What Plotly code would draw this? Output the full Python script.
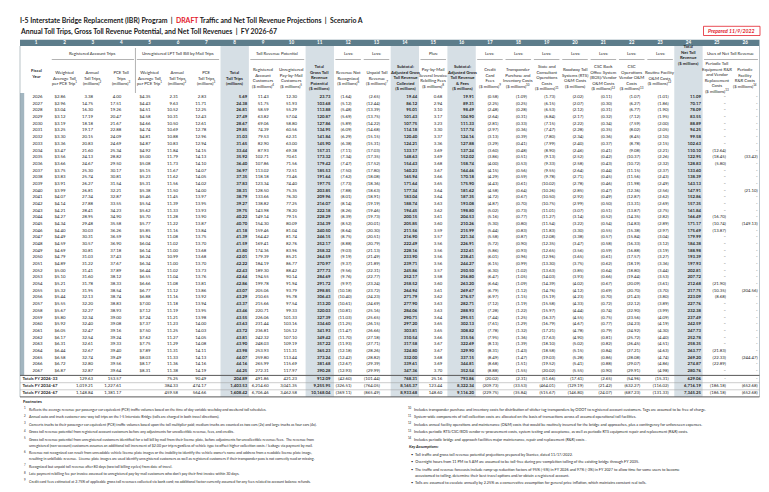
import plotly.graph_objects as go

# ---------------------------------------------------------------- data
fiscal_years = list(range(2026, 2068))

reg_avg_toll = [2.86, 2.96, 3.04, 3.12, 3.19, 3.25, 3.30, 3.36, 3.47, 3.56,
                3.66, 3.75, 3.83, 3.91, 3.99, 4.07, 4.14, 4.21, 4.27, 4.34,
                4.40, 4.49, 4.59, 4.69, 4.79, 4.89, 5.00, 5.10, 5.21, 5.32,
                5.44, 5.55, 5.67, 5.80, 5.92, 6.05, 6.17, 6.31, 6.44, 6.58,
                6.72, 6.87]
reg_trips = [3.38, 14.75, 16.30, 17.19, 18.18, 19.17, 20.15, 20.83, 21.60, 24.13,
             24.67, 25.30, 25.74, 26.27, 26.81, 27.34, 27.88, 28.41, 28.95, 29.48,
             30.03, 30.31, 30.57, 30.81, 31.03, 31.22, 31.41, 31.60, 31.78, 31.95,
             32.13, 32.20, 32.27, 32.34, 32.40, 32.47, 32.54, 32.61, 32.67, 32.74,
             32.80, 32.87]
reg_pce = [4.00, 17.51, 19.26, 20.47, 21.67, 22.88, 24.09, 24.69, 25.34, 28.82,
           29.50, 30.17, 30.81, 31.54, 32.21, 32.87, 33.55, 34.23, 34.90, 35.58,
           36.26, 36.59, 36.90, 37.18, 37.43, 37.67, 37.89, 38.12, 38.33, 38.54,
           38.74, 38.83, 38.93, 39.00, 39.08, 39.16, 39.24, 39.33, 39.40, 39.49,
           39.56, 39.64]
unreg_avg_toll = [4.35, 4.43, 4.51, 4.58, 4.66, 4.74, 4.81, 4.87, 4.92, 5.00,
                  5.08, 5.15, 5.23, 5.31, 5.38, 5.46, 5.54, 5.62, 5.70, 5.77,
                  5.85, 5.94, 6.04, 6.14, 6.24, 6.34, 6.44, 6.55, 6.66, 6.77,
                  6.88, 7.00, 7.12, 7.24, 7.37, 7.50, 7.62, 7.75, 7.89, 8.03,
                  8.17, 8.31]
unreg_trips = [2.31, 9.63, 10.52, 10.31, 10.50, 10.69, 10.88, 10.83, 11.84, 11.79,
               11.73, 11.67, 11.62, 11.56, 11.50, 11.45, 11.39, 11.33, 11.28, 11.22,
               11.16, 11.08, 11.02, 11.00, 10.99, 11.00, 11.02, 11.04, 11.08, 11.12,
               11.16, 11.18, 11.19, 11.21, 11.23, 11.25, 11.27, 11.29, 11.31, 11.33,
               11.36, 11.38]
unreg_pce = [2.83, 11.71, 12.25, 12.43, 12.61, 12.78, 12.96, 12.94, 14.15, 14.13,
             14.10, 14.07, 14.05, 14.02, 14.00, 13.97, 13.95, 13.93, 13.90, 13.87,
             13.84, 13.75, 13.70, 13.68, 13.68, 13.70, 13.73, 13.76, 13.81, 13.86,
             13.92, 13.94, 13.95, 13.98, 14.00, 14.03, 14.05, 14.08, 14.11, 14.13,
             14.16, 14.19]
total_trips = [5.69, 24.38, 26.81, 27.49, 28.67, 29.85, 31.03, 31.65, 33.44, 35.92,
               36.40, 36.97, 37.35, 37.83, 38.31, 38.79, 39.27, 39.75, 40.22, 40.70,
               41.18, 41.39, 41.59, 41.80, 42.01, 42.22, 42.43, 42.64, 42.86, 43.07,
               43.29, 43.37, 43.46, 43.55, 43.63, 43.72, 43.81, 43.90, 43.98, 44.07,
               44.16, 44.25]
rev_registered = [11.43, 51.75, 58.59, 63.82, 69.06, 74.39, 79.53, 82.90, 87.93, 102.71,
                  107.86, 113.02, 118.18, 123.34, 128.50, 133.66, 138.82, 143.98, 149.14, 154.30,
                  159.46, 164.42, 169.41, 174.36, 179.39, 184.19, 189.30, 194.55, 199.78, 205.06,
                  210.65, 215.66, 220.71, 226.06, 231.44, 236.81, 242.32, 248.03, 253.93, 259.80,
                  265.99, 272.31]
rev_unregistered = [12.30, 51.93, 55.29, 57.04, 58.80, 60.56, 62.31, 63.00, 69.38, 70.61,
                    71.56, 72.51, 73.46, 74.40, 75.35, 76.30, 77.25, 78.20, 79.15, 80.09,
                    81.04, 81.74, 82.76, 83.96, 85.21, 86.77, 88.42, 90.14, 91.94, 93.79,
                    95.78, 97.54, 99.33, 101.33, 103.16, 105.12, 107.10, 109.19, 111.31, 113.44,
                    115.69, 117.97]
gross_potential = [23.73, 103.68, 113.88, 120.87, 127.86, 134.95, 141.84, 145.90, 157.31, 173.32,
                   179.42, 185.53, 191.64, 197.75, 203.85, 209.96, 216.07, 222.18, 228.29, 234.39,
                   240.50, 246.15, 252.17, 258.32, 264.59, 270.97, 277.73, 284.69, 291.72, 298.85,
                   306.43, 313.20, 320.03, 327.39, 334.60, 341.93, 349.42, 357.22, 365.23, 373.24,
                   381.68, 390.28]
rev_not_recognized = [-1.64, -5.12, -5.48, -5.69, -5.89, -6.09, -6.29, -6.38, -7.11, -7.34,
                      -7.47, -7.50, -7.62, -7.73, -7.88, -8.01, -8.14, -8.26, -8.39, -8.52,
                      -8.64, -8.75, -8.88, -9.03, -9.19, -9.37, -9.56, -9.76, -9.97, -10.18,
                      -10.40, -10.61, -10.81, -11.03, -11.25, -11.47, -11.70, -11.93, -12.18, -12.42,
                      -12.67, -12.93]
unpaid_revenue = [-2.65, -12.44, -13.39, -13.75, -14.22, -14.68, -15.15, -15.31, -17.03, -17.35,
                  -17.52, -17.80, -18.08, -18.36, -18.63, -18.91, -19.19, -19.46, -19.73, -20.01,
                  -20.30, -20.51, -20.79, -21.13, -21.49, -21.89, -22.31, -22.77, -23.24, -23.72,
                  -24.23, -24.69, -25.16, -25.65, -26.15, -26.66, -27.18, -27.71, -28.26, -28.82,
                  -29.39, -29.99]
subtotal_collected = [19.44, 86.12, 95.01, 101.43, 107.75, 114.18, 120.40, 124.21, 133.17, 148.63,
                      154.43, 160.23, 165.94, 171.64, 177.34, 183.04, 188.74, 194.45, 200.15, 205.85,
                      211.56, 216.90, 222.49, 228.16, 233.90, 239.71, 245.86, 252.17, 258.52, 264.94,
                      271.79, 277.90, 284.06, 290.71, 297.20, 303.81, 310.54, 317.58, 324.80, 332.00,
                      339.61, 347.36]
rebilling_fees = [0.68, 2.94, 3.10, 3.17, 3.23, 3.30, 3.37, 3.36, 3.69, 3.69,
                  3.68, 3.67, 3.66, 3.65, 3.64, 3.64, 3.63, 3.62, 3.61, 3.60,
                  3.59, 3.57, 3.56, 3.56, 3.56, 3.56, 3.57, 3.58, 3.60, 3.61,
                  3.62, 3.63, 3.63, 3.64, 3.65, 3.65, 3.66, 3.67, 3.67, 3.68,
                  3.69, 3.70]
subtotal_with_fees = [19.91, 89.31, 98.49, 104.90, 111.33, 117.74, 124.16, 127.88, 137.24, 152.02,
                      158.74, 164.46, 170.18, 175.90, 181.62, 187.35, 193.08, 198.80, 204.53, 210.26,
                      215.99, 221.34, 226.91, 232.61, 238.41, 244.27, 250.50, 256.80, 263.20, 269.67,
                      276.57, 282.71, 288.93, 295.51, 302.13, 308.82, 315.56, 322.69, 329.90, 337.15,
                      344.81, 352.54]
credit_card_fees = [-0.58, -2.25, -2.48, -2.64, -2.81, -2.97, -3.13, -3.29, -3.60, -3.86,
                    -4.00, -4.15, -4.29, -4.43, -4.58, -4.72, -4.87, -5.02, -5.16, -5.30,
                    -5.44, -5.58, -5.72, -5.86, -6.01, -6.15, -6.30, -6.47, -6.64, -6.79,
                    -6.97, -7.12, -7.28, -7.44, -7.61, -7.78, -7.95, -8.13, -8.31, -8.49,
                    -8.68, -8.88]
transponder_costs = [-1.09, -0.25, -0.28, -0.31, -0.33, -0.36, -0.39, -0.41, -0.48, -0.51,
                     -0.53, -0.56, -0.59, -0.61, -0.64, -0.67, -0.70, -0.73, -0.77, -0.80,
                     -0.83, -0.87, -0.90, -0.93, -0.96, -0.99, -1.02, -1.05, -1.09, -1.12,
                     -1.15, -1.19, -1.22, -1.25, -1.29, -1.32, -1.36, -1.39, -1.43, -1.47,
                     -1.51, -1.55]
state_consultant_costs = [-1.73, -6.15, -6.53, -6.84, -7.15, -7.47, -7.80, -7.99, -8.90, -9.13,
                          -9.33, -9.55, -9.78, -10.02, -10.26, -10.50, -10.75, -11.01, -11.27, -11.54,
                          -11.83, -12.08, -12.35, -12.65, -12.96, -13.30, -13.63, -14.03, -14.39, -14.76,
                          -15.19, -15.58, -15.97, -16.37, -16.79, -17.21, -17.63, -18.10, -18.58, -19.03,
                          -19.52, -20.02]
rts_om_costs = [-2.02, -2.07, -2.12, -2.17, -2.22, -2.28, -2.34, -2.40, -2.46, -2.52,
                -2.58, -2.64, -2.71, -2.78, -2.85, -2.92, -2.99, -3.07, -3.14, -3.22,
                -3.30, -3.38, -3.47, -3.56, -3.65, -3.75, -3.85, -3.93, -4.02, -4.12,
                -4.23, -4.33, -4.44, -4.55, -4.67, -4.78, -4.90, -5.02, -5.15, -5.28,
                -5.41, -5.55]
bos_vendor_costs = [-0.11, -0.30, -0.31, -0.32, -0.34, -0.35, -0.36, -0.37, -0.41, -0.42,
                    -0.43, -0.44, -0.45, -0.46, -0.47, -0.49, -0.50, -0.51, -0.52, -0.54,
                    -0.55, -0.57, -0.58, -0.59, -0.61, -0.62, -0.64, -0.66, -0.67, -0.69,
                    -0.70, -0.72, -0.74, -0.75, -0.77, -0.79, -0.81, -0.82, -0.84, -0.86,
                    -0.88, -0.90]
csc_ops_costs = [-1.07, -6.27, -6.77, -7.12, -7.59, -8.02, -8.45, -8.78, -9.08, -10.37,
                 -10.72, -11.15, -11.56, -11.98, -12.36, -12.87, -13.31, -13.87, -14.35, -14.83,
                 -15.38, -15.84, -16.33, -16.88, -17.57, -18.19, -18.80, -19.44, -20.09, -20.70,
                 -21.43, -22.12, -22.90, -23.56, -24.23, -24.92, -25.72, -26.45, -27.21, -28.08,
                 -29.07, -29.91]
routine_facility_costs = [-1.01, -1.86, -1.90, -1.95, -2.00, -2.05, -2.10, -2.15, -2.21, -2.26,
                          -2.32, -2.37, -2.43, -2.49, -2.56, -2.62, -2.69, -2.75, -2.82, -2.89,
                          -2.97, -3.04, -3.12, -3.19, -3.27, -3.36, -3.44, -3.53, -3.61, -3.70,
                          -3.80, -3.89, -3.99, -4.09, -4.19, -4.30, -4.40, -4.51, -4.63, -4.74,
                          -4.86, -4.98]
net_toll_revenue = [11.09, 70.17, 78.09, 83.55, 88.89, 94.25, 99.58, 102.63, 110.10, 122.95,
                    128.83, 133.60, 138.39, 143.13, 147.91, 152.86, 157.35, 161.84, 166.49, 171.17,
                    175.69, 179.99, 184.38, 188.98, 193.39, 197.93, 202.81, 207.72, 212.68, 217.75,
                    223.09, 227.76, 232.38, 237.49, 242.59, 247.73, 252.78, 258.35, 263.77, 269.20,
                    274.87, 280.76]
periodic_toll_rr = [None, None, None, None, None, None, None, None, -12.64, -18.45,
                    -5.80, None, None, None, None, None, None, None, -16.70, -10.74,
                    -13.87, None, None, None, None, None, None, None, -21.90, -10.35,
                    -8.68, None, None, None, None, None, None, None, -21.83, -22.33,
                    -22.89, None]
periodic_facility_rr = [None, None, None, None, None, None, None, None, None, -33.42,
                        None, None, None, None, -21.10, None, None, None, None, -149.13,
                        None, None, None, None, None, None, None, None, None, -204.56,
                        None, None, None, None, None, None, None, None, None, -244.47,
                        None, None]

totals_labels = ["Totals FY 2026-33", "Totals FY 2034-67", "Totals FY 2026-67"]
# columns 2..26
totals_2026_33 = [None, 129.63, 153.57, None, 75.25, 90.49, 204.89, 491.86, 421.23, 912.09,
                  -42.60, -101.44, 768.31, 25.16, 793.86, -20.02, -2.31, -51.66, -17.61, -2.65,
                  -54.96, -15.31, 629.06, None, None]
totals_2034_67 = [None, 1019.21, 1227.61, None, 384.33, 474.17, 1403.53, 6214.60, 3041.35, 9255.95,
                  -326.51, -764.05, 8165.37, 123.44, 8322.34, -209.73, -33.53, -464.01, -129.19, -21.42,
                  -632.27, -116.02, 6716.19, -186.18, -652.68]
totals_2026_67 = [None, 1148.84, 1381.17, None, 459.58, 564.66, 1608.42, 6706.46, 3462.58, 10168.04,
                  -369.11, -865.49, 8933.68, 148.60, 9116.20, -229.75, -35.84, -515.67, -146.80, -24.07,
                  -687.23, -131.33, 7345.25, -186.18, -652.68]

column_headers = [
    "<b>Fiscal<br>Year</b>",
    "Weighted<br>Average Toll<br>per PCE Trip<sup>1</sup>",
    "Annual<br>Toll Trips<br>(millions)<sup>2</sup>",
    "PCE Toll<br>Trips<br>(millions)<sup>3</sup>",
    "Weighted<br>Average Toll<br>per PCE Trip<sup>1</sup>",
    "Annual<br>Toll Trips<br>(millions)<sup>2</sup>",
    "PCE<br>Toll Trips<br>(millions)<sup>3</sup>",
    "<b>Total<br>Toll Trips<br>(millions)</b>",
    "Registered<br>Account<br>Customers<br>($ millions)<sup>4</sup>",
    "Unregistered<br>Pay-by-Mail<br>Customers<br>($ millions)<sup>5</sup>",
    "<b>Total<br>Gross Toll<br>Revenue<br>Potential<br>($ millions)</b>",
    "Revenue Not<br>Recognized<br>($ millions)<sup>6</sup>",
    "Unpaid Toll<br>Revenue<br>($ millions)<sup>7</sup>",
    "<b>Subtotal:<br>Adjusted Gross<br>Toll Revenue<br>Collected<br>($ millions)</b>",
    "Pay-by-Mail<br>Several Invoice<br>Rebilling Fees<br>($ millions)<sup>8</sup>",
    "<b>Subtotal:<br>Adjusted Gross<br>Toll Revenue<br>&amp; Fees<br>($ millions)</b>",
    "Credit<br>Card<br>Fees<br>($ millions)<sup>9</sup>",
    "Transponder<br>Purchase and<br>Inventory Costs<br>($ millions)<sup>10</sup>",
    "State and<br>Consultant<br>Operations<br>Costs<br>($ millions)<sup>11</sup>",
    "Roadway Toll<br>Systems (RTS)<br>O&amp;M Costs<br>($ millions)",
    "CSC Back<br>Office System<br>(BOS)/Vendor<br>O&amp;M Costs<br>($ millions)<sup>12</sup>",
    "CSC<br>Operations<br>Vendor O&amp;M<br>Costs<br>($ millions)<sup>13</sup>",
    "Routine Facility<br>O&amp;M Costs<br>($ millions)<sup>12</sup>",
    "<b>Total<br>Net Toll<br>Revenue<br>($ millions)</b>",
    "Periodic Toll<br>Equipment R&amp;R<br>and Vendor<br>Replacement<br>Costs<br>($ millions)<sup>13</sup>",
    "Periodic<br>Facility<br>R&amp;R Costs<br>($ millions)<sup>14</sup>",
]

group_headers = [(3, "Registered Account Trips"), (6, "Unregistered LPT Toll Bill by Mail Trips"),
                 (9.5, "Toll Revenue Potential"), (12, "Less:"), (13, "Less:"), (15, "Plus:"),
                 (17, "Less:"), (18, "Less:"), (19, "Less:"), (20, "Less:"), (21, "Less:"),
                 (22, "Less:"), (23, "Less:"), (25.5, "Uses of Net Toll Revenue")]

footnotes_left = [
    ("1", "Reflects the average revenue per passenger car equivalent (PCE) traffic volumes based on the time of day variable weekday and weekend toll schedules."),
    ("2", "Annual auto and truck customer one-way toll trips on the I-5 Interstate Bridge (tolls are charged in both travel directions)."),
    ("3", "Converts trucks to their passenger car equivalent (PCE) traffic volumes based upon the toll multiplier paid; medium trucks are counted as two cars (2x) and large trucks as four cars (4x)."),
    ("4", "Gross toll revenue potential from registered account customers before any adjustments for uncollectible revenue, fees, and credits."),
    ("5", "Gross toll revenue potential from unregistered customers identified for a toll bill by mail from their license plate, before adjustments for uncollectible revenue/fees.  The revenue from"),
    ("", "unregistered (non-account) customers assumes an additional toll increment of $2.00 per trip regardless of vehicle type to offset higher collection costs / leakage via payment by mail."),
    ("6", "Revenue not recognized can result from unreadable vehicle license plate images or the inability to identify the vehicle owner's name and address from a readable license plate image,"),
    ("", "resulting in unbillable revenue.  License plate images are used identify unregistered customers as well as registered customers if their transponder pass is not correctly read or missing."),
    ("7", "Recognized but unpaid toll revenue after 80 days (two toll billing cycles) from date of travel."),
    ("8", "Late payment rebilling fee per invoice assessed to unregistered pay-by-mail customers who don't pay their first invoice within 30 days."),
    ("9", "Credit card fees estimated at 2.75% of applicable gross toll revenues collected via bank card; no additional factor currently assumed for any fees related to account balance refunds."),
]
footnotes_right = [
    ("10", "Includes transponder purchase and inventory costs for distribution of sticker tag transponders by ODOT to registered account customers. Tags are assumed to be free of charge."),
    ("11", "System-wide components of toll collection costs are allocated on the basis of transactions across all assumed operational toll facilities."),
    ("12", "Includes annual facility operations and maintenance (O&amp;M) costs that would be routinely incurred for the bridge and approaches, plus a contingency for unforeseen expenses."),
    ("13", "Includes periodic RTS/CSC/BOS vendor re-procurement costs, system testing and acceptance, as well as periodic RTS equipment repair and replacement (R&amp;R) costs."),
    ("14", "Includes periodic bridge and approach facilities major maintenance, repair and replacement (R&amp;R) costs ."),
]
key_assumptions = [
    "•  Toll traffic and gross toll revenue potential projections prepared by Stantec, dated 11/17/2022.",
    "•  Overnight hours from 11 PM to 5 AM are assumed to be toll-free during pre-completion tolling of the existing bridge through FY 2035.",
    "•  The traffic and revenue forecasts include ramp-up reduction factors of 95% (-5%) in FY 2026 and 97% (-3%) in FY 2027 to allow time for some users to become",
    "    accustomed to tolling, determine their best travel options and/or obtain a registered account.",
    "•  Tolls are assumed to escalate annually by 2.25% as a conservative assumption for general price inflation, which maintains constant real tolls.",
]

# ---------------------------------------------------------------- layout helpers
W_PX, H_PX = 769, 492
L, CW = 14.0, 28.36       # table left edge (px) and column width (px)
Y0, RH = 89.0, 6.68       # first data row centre (px) and row height (px)


def xd(px):
    return 0.5 + (px - L) / CW


def yd(py):
    return (py - Y0) / RH


FONT = "Lato, 'Open Sans', sans-serif"
TXT = "#262626"
TEAL = "#5d7d8b"
BAND = "#d6dfe5"
STRIP = "#a3b6c0"
RED = "#e3202b"


def fmt(v, dollar=False):
    if v is None:
        return None
    s = f"{abs(v):,.2f}"
    if dollar:
        s = "$" + s
    return f"({s})" if v < 0 else s


data_columns = [
    (2, reg_avg_toll, True), (3, reg_trips, False), (4, reg_pce, False),
    (5, unreg_avg_toll, True), (6, unreg_trips, False), (7, unreg_pce, False),
    (8, total_trips, False), (9, rev_registered, False), (10, rev_unregistered, False),
    (11, gross_potential, False), (12, rev_not_recognized, False), (13, unpaid_revenue, False),
    (14, subtotal_collected, False), (15, rebilling_fees, False), (16, subtotal_with_fees, False),
    (17, credit_card_fees, False), (18, transponder_costs, False), (19, state_consultant_costs, False),
    (20, rts_om_costs, False), (21, bos_vendor_costs, False), (22, csc_ops_costs, False),
    (23, routine_facility_costs, False), (24, net_toll_revenue, False),
    (25, periodic_toll_rr, False), (26, periodic_facility_rr, False),
]
bold_cols = {8, 11, 14, 16, 24}
right_off = {2: 0.03, 3: 0.0, 4: 0.0, 5: 0.03, 6: 0.0, 7: 0.0, 8: 0.44, 9: 0.2, 10: 0.2,
             11: 0.38, 12: 0.12, 13: 0.12, 14: 0.44, 15: 0.32, 16: 0.44, 17: 0.3, 18: 0.3,
             19: 0.3, 20: 0.3, 21: 0.3, 22: 0.3, 23: 0.3, 24: 0.44, 25: 0.32, 26: 0.44}
empty_mark = {25: "–", 26: "-"}

fig = go.Figure()
shapes = []
ann = []

# shaded total columns
for c in sorted(bold_cols):
    shapes.append(dict(type="rect", xref="x", yref="y", x0=c - 0.5, x1=c + 0.5,
                       y0=yd(38), y1=yd(389), fillcolor=BAND, line_width=0, layer="below"))
# column-number bar
shapes.append(dict(type="rect", xref="x", yref="y", x0=xd(12), x1=xd(751.5),
                   y0=yd(31.8), y1=yd(38), fillcolor=TEAL, line_width=0, layer="below"))
# left strip for data rows
shapes.append(dict(type="rect", xref="x", yref="y", x0=xd(12), x1=xd(16.2),
                   y0=yd(85), y1=yd(367.4), fillcolor=STRIP, line_width=0, layer="below"))
# outer borders
for xb in (xd(12), xd(751.5)):
    shapes.append(dict(type="line", xref="x", yref="y", x0=xb, x1=xb, y0=yd(38), y1=yd(389),
                       line=dict(color="#8c9ba3", width=0.6)))
# vertical separator in header between col 4 and 5
shapes.append(dict(type="line", xref="x", yref="y", x0=4.5, x1=4.5, y0=yd(40), y1=yd(85),
                   line=dict(color="#7f7f7f", width=0.6)))
# group underlines
for a, b in [(2, 4), (5, 7), (9, 10), (12, 12), (13, 13), (15, 15), (17, 17), (18, 18), (19, 19),
             (20, 20), (21, 21), (22, 22), (23, 23), (25, 26)]:
    shapes.append(dict(type="line", xref="x", yref="y", x0=a - 0.45, x1=b + 0.45,
                       y0=yd(51.5), y1=yd(51.5), line=dict(color="#7f7f7f", width=0.6)))
# bottom / totals lines
for py, w, col in [(367.4, 1.0, "#595959"), (374.7, 0.5, "#9a9a9a"), (381.8, 0.5, "#9a9a9a"),
                   (388.9, 1.0, "#595959")]:
    shapes.append(dict(type="line", xref="x", yref="y", x0=xd(12), x1=xd(751.5), y0=yd(py), y1=yd(py),
                       line=dict(color=col, width=w)))

rows = list(range(len(fiscal_years)))

# fiscal year column
fig.add_trace(go.Scatter(x=[1.05] * len(rows), y=rows, mode="text", text=[str(y) for y in fiscal_years],
                         textposition="middle center",
                         textfont=dict(family=FONT, size=4.3, color=TXT),
                         hoverinfo="skip", showlegend=False, cliponaxis=False))

for c, vals, dollar in data_columns:
    texts = []
    for v in vals:
        t = fmt(v, dollar)
        if t is None:
            t = empty_mark.get(c, "")
        if c in bold_cols:
            t = f"<b>{t}</b>"
        texts.append(t)
    fig.add_trace(go.Scatter(x=[c + right_off[c]] * len(vals), y=rows, mode="text", text=texts,
                             textposition="middle left",
                             textfont=dict(family=FONT, size=4.3, color=TXT),
                             hoverinfo="skip", showlegend=False, cliponaxis=False))

# totals rows
tot_y = [yd(371.1), yd(378.2), yd(385.3)]
for label, vals, ty in zip(totals_labels, [totals_2026_33, totals_2034_67, totals_2026_67], tot_y):
    fig.add_trace(go.Scatter(x=[xd(14.5)], y=[ty], mode="text", text=[f"<b>{label}</b>"],
                             textposition="middle right",
                             textfont=dict(family=FONT, size=4.3, color=TXT),
                             hoverinfo="skip", showlegend=False, cliponaxis=False))
    xs, ts = [], []
    for i, v in enumerate(vals):
        c = i + 2
        t = fmt(v)
        if t is None:
            if c in (25, 26):
                t = "-"
            else:
                continue
        if c in bold_cols:
            t = f"<b>{t}</b>"
        xs.append(c + right_off[c])
        ts.append(t)
    fig.add_trace(go.Scatter(x=xs, y=[ty] * len(xs), mode="text", text=ts, textposition="middle left",
                             textfont=dict(family=FONT, size=4.3, color=TXT),
                             hoverinfo="skip", showlegend=False, cliponaxis=False))

# column numbers
fig.add_trace(go.Scatter(x=list(range(1, 27)), y=[yd(35)] * 26, mode="text",
                         text=[f"<b>{i}</b>" for i in range(1, 27)], textposition="middle center",
                         textfont=dict(family=FONT, size=4.6, color="white"),
                         hoverinfo="skip", showlegend=False, cliponaxis=False))

# column headers
for i, h in enumerate(column_headers):
    c = i + 1
    if c == 1:
        yy = yd(65)
    elif c == 24:
        yy = yd(46.5)
    else:
        yy = yd(69.5)
    ann.append(dict(x=c, y=yy, xref="x", yref="y", text=h, showarrow=False, align="center",
                    xanchor="center", yanchor="middle", font=dict(family=FONT, size=4.3, color=TXT)))
for gx, gt in group_headers:
    ann.append(dict(x=gx, y=yd(45.8), xref="x", yref="y", text=gt, showarrow=False,
                    xanchor="center", yanchor="middle", font=dict(family=FONT, size=4.3, color=TXT)))


def P(px):
    return px / W_PX


def Q(py):
    return 1 - py / H_PX


# titles
ann.append(dict(x=P(10), y=Q(12.5), xref="paper", yref="paper", xanchor="left", yanchor="middle",
                showarrow=False,
                text=("<b>I-5 Interstate Bridge Replacement (IBR) Program  |  "
                      f"<span style='color:{RED}'>DRAFT</span> Traffic and Net Toll Revenue Projections  |  Scenario A</b>"),
                font=dict(family=FONT, size=6.9, color="#1a1a1a")))
ann.append(dict(x=P(10), y=Q(23.5), xref="paper", yref="paper", xanchor="left", yanchor="middle",
                showarrow=False,
                text="<b>Annual Toll Trips, Gross Toll Revenue Potential, and Net Toll Revenues  |  FY 2026-67</b>",
                font=dict(family=FONT, size=6.9, color="#1a1a1a")))
# prepared box
shapes.append(dict(type="rect", xref="paper", yref="paper", x0=P(695.5), x1=P(752), y0=Q(27.5), y1=Q(18.3),
                   line=dict(color=RED, width=0.8), fillcolor="white"))
ann.append(dict(x=P(723.7), y=Q(23), xref="paper", yref="paper", xanchor="center", yanchor="middle",
                showarrow=False, text="<b><i>Prepared 11/9/2022</i></b>",
                font=dict(family=FONT, size=5.2, color=RED)))

# footnotes
ann.append(dict(x=P(13), y=Q(393.8), xref="paper", yref="paper", xanchor="left", yanchor="middle",
                showarrow=False, text="<b>Footnotes</b>", font=dict(family=FONT, size=4.2, color=TXT)))
left_y = [401, 408.5, 416, 423.5, 431, 437, 444.5, 450.5, 458, 465.5, 473]
for (num, txt), py in zip(footnotes_left, left_y):
    if num:
        ann.append(dict(x=P(14), y=Q(py - 1), xref="paper", yref="paper", xanchor="left", yanchor="middle",
                        showarrow=False, text=num, font=dict(family=FONT, size=2.8, color=TXT)))
    ann.append(dict(x=P(19), y=Q(py), xref="paper", yref="paper", xanchor="left", yanchor="middle",
                    showarrow=False, text=txt, font=dict(family=FONT, size=3.6, color=TXT)))
right_y = [401, 408.5, 416, 423.5, 431]
for (num, txt), py in zip(footnotes_right, right_y):
    ann.append(dict(x=P(398), y=Q(py - 1), xref="paper", yref="paper", xanchor="left", yanchor="middle",
                    showarrow=False, text=num, font=dict(family=FONT, size=2.8, color=TXT)))
    ann.append(dict(x=P(404), y=Q(py), xref="paper", yref="paper", xanchor="left", yanchor="middle",
                    showarrow=False, text=txt, font=dict(family=FONT, size=3.8, color=TXT)))
ann.append(dict(x=P(399), y=Q(438.5), xref="paper", yref="paper", xanchor="left", yanchor="middle",
                showarrow=False, text="<b><i>Key Assumptions:</i></b>", font=dict(family=FONT, size=4.0, color=TXT)))
for txt, py in zip(key_assumptions, [446, 453.5, 461, 467, 474.5]):
    ann.append(dict(x=P(401), y=Q(py), xref="paper", yref="paper", xanchor="left", yanchor="middle",
                    showarrow=False, text=txt, font=dict(family=FONT, size=3.8, color=TXT)))

# logo and footer
ann.append(dict(x=P(9), y=Q(485), xref="paper", yref="paper", xanchor="left", yanchor="middle",
                showarrow=False, text="wsp", font=dict(family=FONT, size=14, color="#ff372f")))
ann.append(dict(x=P(762), y=Q(486), xref="paper", yref="paper", xanchor="right", yanchor="middle",
                showarrow=False, text="Prepared 12/9/2022  |  Printed 2/1/2023",
                font=dict(family=FONT, size=4.4, color="#404040")))

fig.update_layout(
    width=W_PX, height=H_PX,
    margin=dict(l=0, r=0, t=0, b=0),
    paper_bgcolor="white", plot_bgcolor="white",
    xaxis=dict(range=[xd(0), xd(W_PX)], visible=False, fixedrange=True),
    yaxis=dict(range=[yd(H_PX), yd(0)], visible=False, fixedrange=True),
    shapes=shapes, annotations=ann, showlegend=False,
)

fig.write_html("out.html")
